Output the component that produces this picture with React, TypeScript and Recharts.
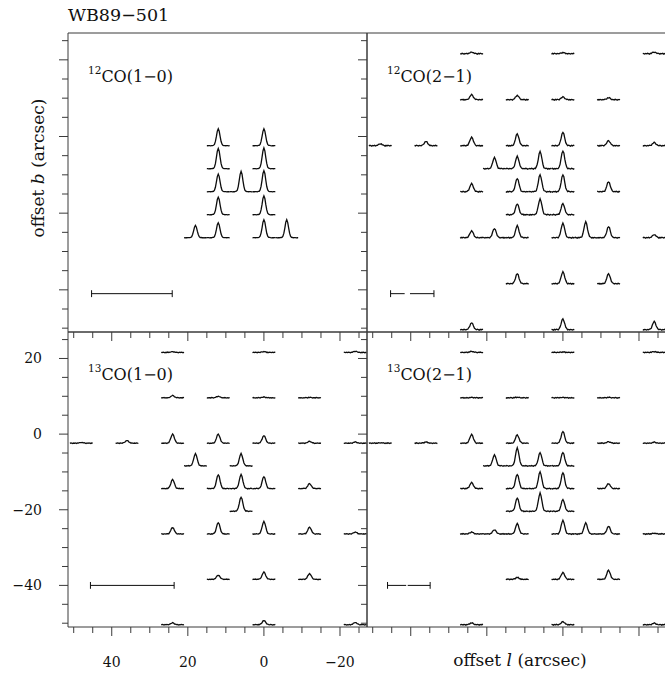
import React from 'react';
import { LineChart, Line, XAxis, YAxis } from 'recharts';

// offsets of each spectrum, peak heights in arcsec of plot height
interface Spec {
  l: number;
  b: number;
  peak: number;
}

interface Bar {
  segs: [number, number][];
  b: number;
}

const CO12_10: Spec[] = [
  { l: 12, b: 0, peak: 4.4 }, { l: 0, b: 0, peak: 4.4 },
  { l: 12, b: -6, peak: 5.3 }, { l: 0, b: -6, peak: 5.4 },
  { l: 12, b: -12, peak: 4.6 }, { l: 6, b: -12, peak: 5.3 }, { l: 0, b: -12, peak: 5.5 },
  { l: 12, b: -18, peak: 4.6 }, { l: 0, b: -18, peak: 4.9 },
  { l: 18, b: -24, peak: 3.2 }, { l: 12, b: -24, peak: 3.9 }, { l: 0, b: -24, peak: 4.7 }, { l: -6, b: -24, peak: 4.7 },
];

const CO12_21: Spec[] = [
  { l: 24, b: 24, peak: 0.4 }, { l: 0, b: 24, peak: 0.3 }, { l: -24, b: 24, peak: 0.4 },
  { l: 24, b: 12, peak: 1.3 }, { l: 12, b: 12, peak: 1.1 }, { l: 0, b: 12, peak: 0.7 }, { l: -12, b: 12, peak: 0.5 },
  { l: 48, b: 0, peak: 0.5 }, { l: 36, b: 0, peak: 1.1 }, { l: 24, b: 0, peak: 2.2 }, { l: 12, b: 0, peak: 3.1 },
  { l: 0, b: 0, peak: 3.5 }, { l: -12, b: 0, peak: 1.3 }, { l: -24, b: 0, peak: 0.8 },
  { l: 18, b: -6, peak: 2.9 }, { l: 12, b: -6, peak: 3.2 }, { l: 6, b: -6, peak: 4.5 }, { l: 0, b: -6, peak: 4.7 },
  { l: 24, b: -12, peak: 2.1 }, { l: 12, b: -12, peak: 3.5 }, { l: 6, b: -12, peak: 4.4 }, { l: 0, b: -12, peak: 4.4 },
  { l: -12, b: -12, peak: 2.6 },
  { l: 12, b: -18, peak: 2.8 }, { l: 6, b: -18, peak: 4.1 }, { l: 0, b: -18, peak: 2.9 },
  { l: 24, b: -24, peak: 1.8 }, { l: 18, b: -24, peak: 2.4 }, { l: 12, b: -24, peak: 3.1 },
  { l: 0, b: -24, peak: 3.8 }, { l: -6, b: -24, peak: 4.1 }, { l: -12, b: -24, peak: 2.9 }, { l: -24, b: -24, peak: 0.8 },
  { l: 12, b: -36, peak: 2.6 }, { l: 0, b: -36, peak: 3.1 }, { l: -12, b: -36, peak: 2.6 },
  { l: 24, b: -48, peak: 1.8 }, { l: 0, b: -48, peak: 2.8 }, { l: -24, b: -48, peak: 2.1 },
];

const CO13_10: Spec[] = [
  { l: 24, b: 24, peak: 0.2 }, { l: 0, b: 24, peak: 0.2 }, { l: -24, b: 24, peak: 0.3 },
  { l: 24, b: 12, peak: 0.6 }, { l: 12, b: 12, peak: 0.4 }, { l: 0, b: 12, peak: 0.2 }, { l: -12, b: 12, peak: 0.1 },
  { l: 48, b: 0, peak: 0.2 }, { l: 36, b: 0, peak: 0.7 }, { l: 24, b: 0, peak: 2.4 }, { l: 12, b: 0, peak: 2.4 },
  { l: 0, b: 0, peak: 2.0 }, { l: -12, b: 0, peak: 0.5 }, { l: -24, b: 0, peak: 0.3 },
  { l: 18, b: -6, peak: 3.2 }, { l: 6, b: -6, peak: 3.2 },
  { l: 24, b: -12, peak: 2.4 }, { l: 12, b: -12, peak: 3.7 }, { l: 6, b: -12, peak: 3.7 }, { l: 0, b: -12, peak: 3.2 },
  { l: -12, b: -12, peak: 1.3 },
  { l: 6, b: -18, peak: 3.7 },
  { l: 24, b: -24, peak: 1.7 }, { l: 12, b: -24, peak: 3.0 }, { l: 0, b: -24, peak: 3.3 }, { l: -12, b: -24, peak: 1.8 },
  { l: -24, b: -24, peak: 0.5 },
  { l: 12, b: -36, peak: 1.1 }, { l: 0, b: -36, peak: 1.9 }, { l: -12, b: -36, peak: 1.5 },
  { l: 24, b: -48, peak: 0.5 }, { l: 0, b: -48, peak: 1.1 }, { l: -24, b: -48, peak: 0.6 },
];

const CO13_21: Spec[] = [
  { l: 24, b: 24, peak: 0.3 }, { l: 0, b: 24, peak: 0.1 }, { l: -24, b: 24, peak: 0.2 },
  { l: 24, b: 12, peak: 0.1 }, { l: 12, b: 12, peak: 0.15 }, { l: 0, b: 12, peak: 0.1 }, { l: -12, b: 12, peak: 0.1 },
  { l: 48, b: 0, peak: 0.1 }, { l: 36, b: 0, peak: 0.3 }, { l: 24, b: 0, peak: 2.3 }, { l: 12, b: 0, peak: 2.2 },
  { l: 0, b: 0, peak: 3.1 }, { l: -12, b: 0, peak: 0.4 }, { l: -24, b: 0, peak: 0.25 },
  { l: 18, b: -6, peak: 2.9 }, { l: 12, b: -6, peak: 4.7 }, { l: 6, b: -6, peak: 3.5 }, { l: 0, b: -6, peak: 3.6 },
  { l: 24, b: -12, peak: 1.6 }, { l: 12, b: -12, peak: 3.8 }, { l: 6, b: -12, peak: 4.4 }, { l: 0, b: -12, peak: 4.2 },
  { l: -12, b: -12, peak: 1.3 },
  { l: 12, b: -18, peak: 3.5 }, { l: 6, b: -18, peak: 4.8 }, { l: 0, b: -18, peak: 3.1 },
  { l: 24, b: -24, peak: 0.5 }, { l: 18, b: -24, peak: 1.1 }, { l: 12, b: -24, peak: 2.7 },
  { l: 0, b: -24, peak: 3.6 }, { l: -6, b: -24, peak: 2.9 }, { l: -12, b: -24, peak: 2.0 }, { l: -24, b: -24, peak: 0.2 },
  { l: 12, b: -36, peak: 0.5 }, { l: 0, b: -36, peak: 1.8 }, { l: -12, b: -36, peak: 2.4 },
  { l: 24, b: -48, peak: 0.5 }, { l: 0, b: -48, peak: 0.8 }, { l: -24, b: -48, peak: 0.4 },
];

// channel offsets (arcsec of map) and the line shape
const VEL = [-3, -2.75, -2.5, -2.25, -2, -1.75, -1.5, -1.25, -1, -0.75, -0.5, -0.25, 0,
  0.25, 0.5, 0.75, 1, 1.25, 1.5, 1.75, 2, 2.25, 2.5, 2.75, 3];
const PROFILE = [0, 0, 0, 0, 0, 0, 0.01, 0.02, 0.08, 0.25, 0.54, 0.86, 1,
  0.86, 0.54, 0.25, 0.08, 0.02, 0.01, 0, 0, 0, 0, 0, 0];
const RIPPLE = [0.3, -0.5, 0.2, 0.6, -0.3, 0.4, -0.6, 0.1, 0.5, -0.2, 0.3, -0.4, 0,
  0.4, -0.3, 0.2, -0.5, 0.6, -0.1, 0.3, -0.6, 0.2, 0.5, -0.3, 0.1];

const BAR_12_10: Bar = { segs: [[45.3, 24.1]], b: -41 };
const BAR_12_21: Bar = { segs: [[45.3, 41.6], [40.2, 33.9]], b: -41 };
const BAR_13_10: Bar = { segs: [[45.6, 23.6]], b: -40 };
const BAR_13_21: Bar = { segs: [[46.1, 41.2], [40.8, 34.9]], b: -40 };

const L_TICKS = [-25, -20, -15, -10, -5, 0, 5, 10, 15, 20, 25, 30, 35, 40, 45, 50];
const B_TICKS = [-50, -45, -40, -35, -30, -25, -20, -15, -10, -5, 0, 5, 10, 15, 20, 25];
const L_LABELS = [40, 20, 0, -20];
const B_LABELS = [20, 0, -20, -40];

const L_DOMAIN: [number, number] = [-27.1, 51.5];
const B_DOMAIN: [number, number] = [-51, 27];
const BASE_DROP = -2.4;

const INK = '#0d0d0d';
const FRAME = '#3a3a3a';
const FONT = '"DejaVu Serif", "Liberation Serif", serif';
const CHART_W = 680;
const CHART_H = 673;

type Side = 'top' | 'bottom' | 'left' | 'right';

const fmt = (v: number) => (v < 0 ? `\u2212${-v}` : `${v}`);

function makeTick(side: Side, labels: number[] | null) {
  return function Tick(props: any) {
    const { x, y, payload } = props;
    const v = payload.value as number;
    const len = v % 20 === 0 ? 9 : 6;
    const show = labels !== null && labels.includes(v);
    let line;
    let text = null;
    if (side === 'bottom') {
      line = <line x1={x} y1={y} x2={x} y2={y + len} />;
      if (show) text = <text x={x} y={y + 40} textAnchor="middle">{fmt(v)}</text>;
    } else if (side === 'top') {
      line = <line x1={x} y1={y} x2={x} y2={y - len} />;
    } else if (side === 'left') {
      line = <line x1={x} y1={y} x2={x - len} y2={y} />;
      if (show) text = <text x={x - 26} y={y + 5} textAnchor="end">{fmt(v)}</text>;
    } else {
      line = <line x1={x} y1={y} x2={x + len} y2={y} />;
    }
    return (
      <g>
        <g stroke={FRAME} strokeWidth={1}>{line}</g>
        {text && <g fill="#111" fontSize={14} fontFamily={FONT}>{text}</g>}
      </g>
    );
  };
}

function spectrum(s: Spec, noise: number, k: number) {
  return VEL.map((v, i) => ({
    x: s.l + v,
    y: s.b + BASE_DROP + s.peak * PROFILE[i] + noise * RIPPLE[(i + k * 7) % RIPPLE.length],
  }));
}

interface PanelProps {
  id: string;
  box: [number, number, number, number];
  spectra: Spec[];
  bar: Bar;
  noise: number;
  labelled: boolean;
}

function Panel({ id, box, spectra, bar, noise, labelled }: PanelProps) {
  const [x0, y0, x1, y1] = box;
  const lineProps = {
    xAxisId: 'B',
    yAxisId: 'L',
    dataKey: 'y',
    dot: false,
    activeDot: false,
    isAnimationActive: false,
    type: 'linear' as const,
  };
  // every axis takes 1px of room, the plot area then sits exactly on the box
  return (
    <div style={{ position: 'absolute', left: 0, top: 0 }}>
      <LineChart
        width={CHART_W}
        height={CHART_H}
        margin={{ top: y0 - 1, left: x0 - 1, right: CHART_W - x1 - 1, bottom: CHART_H - y1 - 1 }}
      >
        <XAxis xAxisId="B" orientation="bottom" type="number" dataKey="x" domain={L_DOMAIN} reversed
          ticks={L_TICKS} interval={0} height={1} tickSize={0} tickMargin={0} tickLine={false}
          axisLine={{ stroke: FRAME }} tick={makeTick('bottom', labelled ? L_LABELS : null)} />
        <XAxis xAxisId="T" orientation="top" type="number" dataKey="x" domain={L_DOMAIN} reversed
          ticks={L_TICKS} interval={0} height={1} tickSize={0} tickMargin={0} tickLine={false}
          axisLine={{ stroke: FRAME }} tick={makeTick('top', null)} />
        <YAxis yAxisId="L" orientation="left" type="number" domain={B_DOMAIN}
          ticks={B_TICKS} interval={0} width={1} tickSize={0} tickMargin={0} tickLine={false}
          axisLine={{ stroke: FRAME }} tick={makeTick('left', labelled ? B_LABELS : null)} />
        <YAxis yAxisId="R" orientation="right" type="number" domain={B_DOMAIN}
          ticks={B_TICKS} interval={0} width={1} tickSize={0} tickMargin={0} tickLine={false}
          axisLine={{ stroke: FRAME }} tick={makeTick('right', null)} />
        {spectra.map((s, k) => (
          <Line key={`${id}-s${k}`} {...lineProps} data={spectrum(s, noise, k)}
            stroke={INK} strokeWidth={1.3} />
        ))}
        {bar.segs.map((seg, k) => (
          <Line key={`${id}-bar${k}`} {...lineProps}
            data={[{ x: seg[0], y: bar.b }, { x: seg[1], y: bar.b }]} stroke={INK} strokeWidth={1} />
        ))}
        {[bar.segs[0][0], bar.segs[bar.segs.length - 1][1]].map((l, k) => (
          <Line key={`${id}-cap${k}`} {...lineProps}
            data={[{ x: l, y: bar.b + 0.9 }, { x: l, y: bar.b - 0.9 }]} stroke={INK} strokeWidth={1} />
        ))}
      </LineChart>
    </div>
  );
}

function PanelLabel({ x, y, iso, trans }: { x: number; y: number; iso: string; trans: string }) {
  return (
    <text x={x} y={y} fontFamily={FONT} fill="#111">
      <tspan fontSize={10.5} dy={-8}>{iso}</tspan>
      <tspan fontSize={16} dy={8}>{trans}</tspan>
    </text>
  );
}

export default function App() {
  return (
    <div style={{ position: 'absolute', left: 0, top: 0, width: 665, height: 673, overflow: 'hidden', background: '#fff' }}>
      <Panel id="tl" box={[68, 33, 367, 332]} spectra={CO12_10} bar={BAR_12_10} noise={0.05} labelled={false} />
      <Panel id="tr" box={[367, 33, 666, 332]} spectra={CO12_21} bar={BAR_12_21} noise={0.2} labelled={false} />
      <Panel id="bl" box={[68, 332, 367, 627]} spectra={CO13_10} bar={BAR_13_10} noise={0.14} labelled />
      <Panel id="br" box={[367, 332, 666, 627]} spectra={CO13_21} bar={BAR_13_21} noise={0.18} labelled={false} />
      <svg width={665} height={673} style={{ position: 'absolute', left: 0, top: 0, pointerEvents: 'none' }}>
        <text x={68} y={21} fontFamily={FONT} fontSize={17.5} fill="#111">WB89{'\u2212'}501</text>
        <PanelLabel x={88} y={82} iso="12" trans={'CO(1\u22120)'} />
        <PanelLabel x={387} y={82} iso="12" trans={'CO(2\u22121)'} />
        <PanelLabel x={88} y={380} iso="13" trans={'CO(1\u22120)'} />
        <PanelLabel x={387} y={380} iso="13" trans={'CO(2\u22121)'} />
        <text x={520} y={666} textAnchor="middle" fontFamily={FONT} fontSize={17} fill="#111">
          offset <tspan fontStyle="italic">l</tspan> (arcsec)
        </text>
        <text x={0} y={0} transform="translate(44 168) rotate(-90)" textAnchor="middle"
          fontFamily={FONT} fontSize={17} fill="#111">
          offset <tspan fontStyle="italic">b</tspan> (arcsec)
        </text>
      </svg>
    </div>
  );
}
